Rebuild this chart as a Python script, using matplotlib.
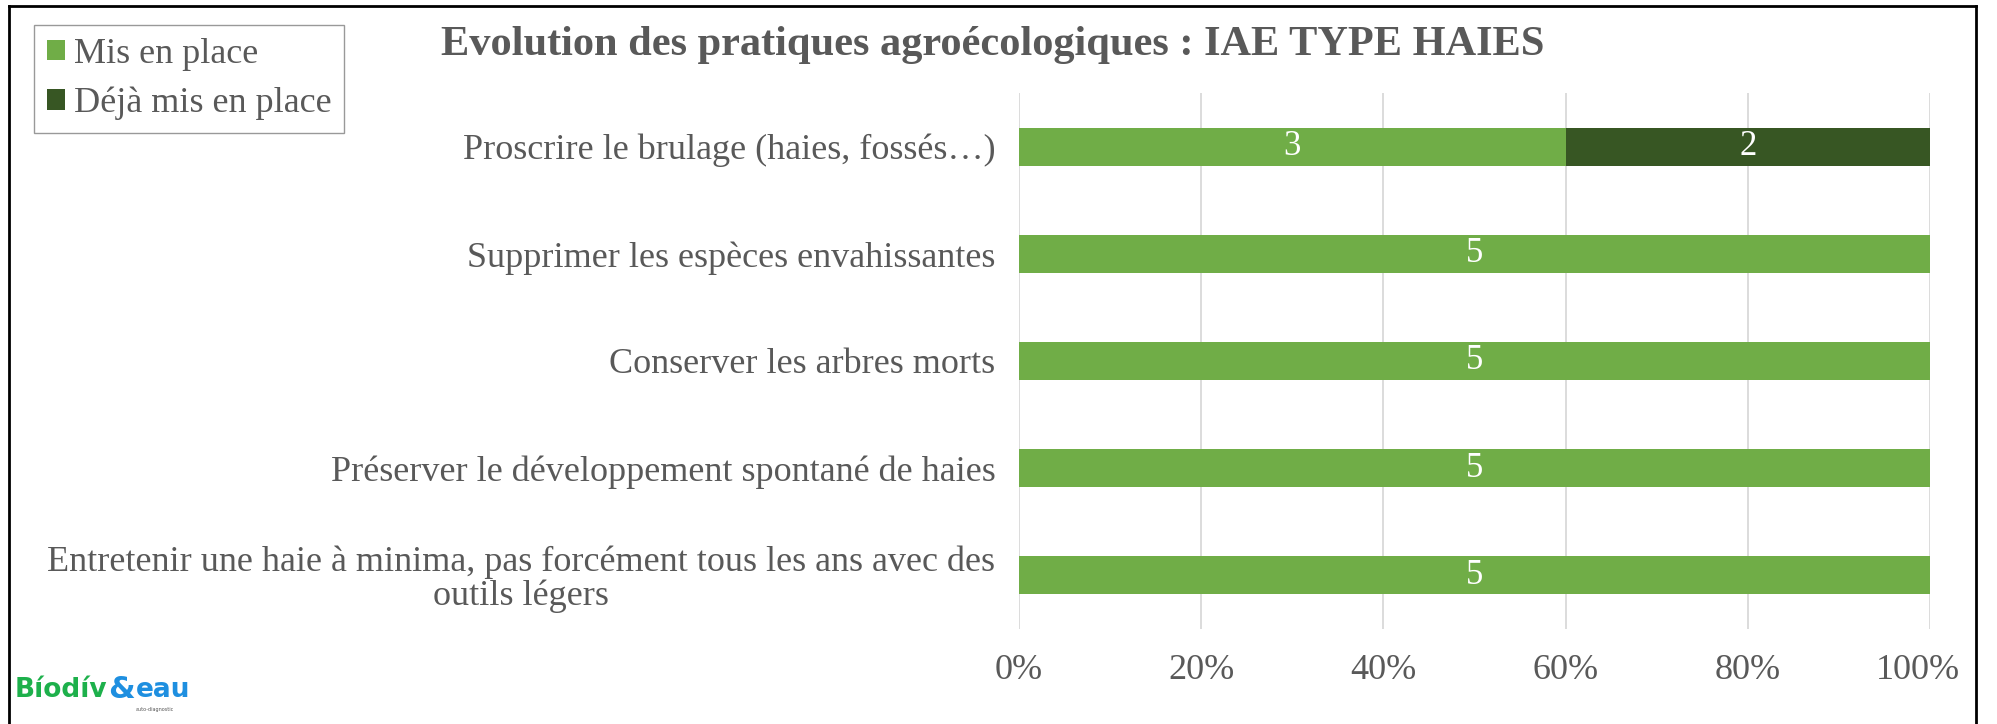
import matplotlib
matplotlib.use("Agg")
import matplotlib.pyplot as plt
import matplotlib.transforms as mtrans
import numpy as np
from matplotlib.lines import Line2D
from matplotlib.patches import Patch

categories = [
    "Proscrire le brulage (haies, fossés…)",
    "Supprimer les espèces envahissantes",
    "Conserver les arbres morts",
    "Préserver le développement spontané de haies",
    "Entretenir une haie à minima, pas forcément tous les ans avec des\noutils légers",
]
mis_en_place = [3, 5, 5, 5, 5]
deja_mis_en_place = [2, 0, 0, 0, 0]
series_names = ["Mis en place", "Déjà mis en place"]
xtick_labels = ["0%", "20%", "40%", "60%", "80%", "100%"]
title = "Evolution des pratiques agroécologiques : IAE TYPE HAIES"

c_light = "#70AD47"
c_dark = "#375623"
grey = "#595959"

plt.rcParams['font.family'] = ['Liberation Serif', 'DejaVu Serif']

W, H = 1997, 724
fig = plt.figure(figsize=(W / 100, H / 100), dpi=100)
ax = fig.add_axes([1019 / W, 1 - 629 / H, (1930 - 1019) / W, (629 - 93) / H])

a = np.array(mis_en_place, dtype=float)
b = np.array(deja_mis_en_place, dtype=float)
tot = a + b
pa = a / tot
pb = b / tot
y = np.arange(len(categories))
h = 0.355
ax.barh(y, pa, height=h, color=c_light, label=series_names[0], zorder=3)
ax.barh(y, pb, left=pa, height=h, color=c_dark, label=series_names[1], zorder=3)

for i in range(len(categories)):
    if a[i] > 0:
        ax.text(pa[i] / 2, y[i], f"{int(a[i])}", ha="center", va="center",
                color="white", fontsize=25, zorder=4)
    if b[i] > 0:
        ax.text(pa[i] + pb[i] / 2, y[i], f"{int(b[i])}", ha="center", va="center",
                color="white", fontsize=25, zorder=4)

ax.set_xlim(0, 1)
ax.set_ylim(len(categories) - 0.5, -0.5)
ax.set_xticks(np.linspace(0, 1, len(xtick_labels)))
ax.set_xticklabels(xtick_labels)
ax.set_yticks(y)
ax.set_yticklabels(categories, multialignment="center", linespacing=1.0)
ax.tick_params(axis="both", length=0, labelsize=26, colors=grey)
ax.tick_params(axis="y", pad=17)
ax.tick_params(axis="x", pad=18)
ax.grid(axis="x", color="#D9D9D9", linewidth=1.3, zorder=0)
for s in ax.spines.values():
    s.set_visible(False)
# Excel keeps the last tick label inside the chart area
last = ax.get_xticklabels()[-1]
last.set_transform(last.get_transform() +
                   mtrans.ScaledTranslation(-12 / 100, 0, fig.dpi_scale_trans))

fig.text(993 / W, 1 - 45 / H, title, ha="center", va="center",
         fontsize=30.5, fontweight="bold", color=grey)

handles = [Patch(facecolor=c_light), Patch(facecolor=c_dark)]
leg = fig.legend(handles, series_names, loc="upper left",
                 bbox_to_anchor=(34 / W, 1 - 25 / H), fontsize=26,
                 frameon=True, fancybox=False, edgecolor="#808080",
                 handlelength=0.5, handleheight=0.5, handletextpad=0.25,
                 borderpad=0.35, labelspacing=0.45, borderaxespad=0)
for t in leg.get_texts():
    t.set_color(grey)
leg.get_frame().set_linewidth(1.0)

# logo
r = fig.canvas.get_renderer()
t1 = fig.text(15 / W, 1 - 690 / H, "Bíodív", fontsize=19, fontweight="bold",
              color="#1DB04B", family="DejaVu Sans", ha="left", va="center")
bb = t1.get_window_extent(r)
t2 = fig.text((bb.x1 + 1) / W, 1 - 690 / H, "&", fontsize=22, fontweight="bold",
              color="#1E8FE0", family="DejaVu Sans", ha="left", va="center")
bb2 = t2.get_window_extent(r)
t3 = fig.text((bb2.x1 + 1) / W, 1 - 690 / H, "eau", fontsize=19, fontweight="bold",
              color="#1E8FE0", family="DejaVu Sans", ha="left", va="center")
bb3 = t3.get_window_extent(r)
fig.text((bb2.x1 + 1) / W, (bb2.y0 - 5) / H, "auto-diagnostic", fontsize=3.5,
         color="#555555", family="DejaVu Sans", ha="left", va="center")

# outer frame
lw = 2
fig.add_artist(Line2D([9 / W, 9 / W], [0, 1 - 6 / H], color="black", lw=lw))
fig.add_artist(Line2D([9 / W, 1976 / W], [1 - 6 / H, 1 - 6 / H], color="black", lw=lw))
fig.add_artist(Line2D([1976 / W, 1976 / W], [0, 1 - 6 / H], color="black", lw=lw))

fig.savefig("out.png", dpi=100, facecolor="white")
